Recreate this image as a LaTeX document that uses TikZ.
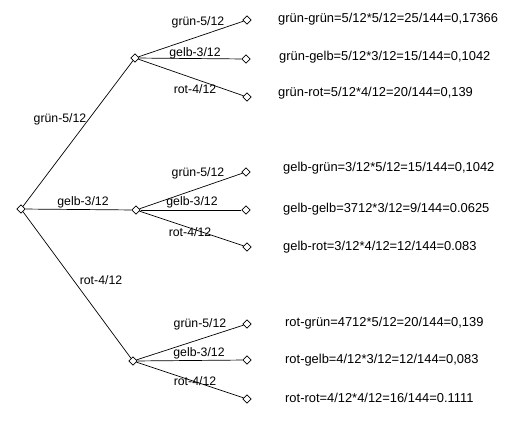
\documentclass[tikz,border=0pt]{standalone}
\usepackage{fontspec}
\setmainfont{Liberation Sans}
\usetikzlibrary{shapes.geometric}
\newcommand{\treefont}{\fontsize{12.3}{14}\selectfont}
\newcommand{\resultfont}{\fontsize{12.9}{15}\selectfont}

\begin{document}
\begin{tikzpicture}[
  x=1pt, y=-1pt,
  knot/.style={draw, diamond, minimum size=8.5pt, inner sep=0pt, line width=0.7pt},
  problabel/.style={font=\treefont, inner sep=0pt},
  result/.style={font=\resultfont, anchor=west, inner sep=0pt},
  branch/.style={line width=0.7pt}
]
\useasboundingbox (0,0) rectangle (527,420);
% tree points
\node[knot] (root) at (21,209) {};
\node[knot] (gruen) at (135,58) {};
\node[knot] (gelb) at (136,210) {};
\node[knot] (rot) at (133,361) {};
\node[knot] (gruengruen) at (247,20) {};
\node[knot] (gruengelb) at (246,59) {};
\node[knot] (gruenrot) at (247,97) {};
\node[knot] (gelbgruen) at (246,172) {};
\node[knot] (gelbgelb) at (246,210) {};
\node[knot] (gelbrot) at (247,247) {};
\node[knot] (rotgruen) at (247,324) {};
\node[knot] (rotgelb) at (247,360) {};
\node[knot] (rotrot) at (247,399) {};
% branches
\draw[branch] (root) -- (gruen);
\draw[branch] (root) -- (gelb);
\draw[branch] (root) -- (rot);
\draw[branch] (gruen) -- (gruengruen);
\draw[branch] (gruen) -- (gruengelb);
\draw[branch] (gruen) -- (gruenrot);
\draw[branch] (gelb) -- (gelbgruen);
\draw[branch] (gelb) -- (gelbgelb);
\draw[branch] (gelb) -- (gelbrot);
\draw[branch] (rot) -- (rotgruen);
\draw[branch] (rot) -- (rotgelb);
\draw[branch] (rot) -- (rotrot);
% branch labels
\node[problabel] (lgruen) at (60,119) {grün-5/12};
\node[problabel] (lgelb) at (83,202) {gelb-3/12};
\node[problabel] (lrot) at (101,280) {rot-4/12};
\node[problabel] (lgruengruen) at (198,22) {grün-5/12};
\node[problabel] (lgruengelb) at (195,53) {gelb-3/12};
\node[problabel] (lgruenrot) at (195,89) {rot-4/12};
\node[problabel] (lgelbgruen) at (198,173) {grün-5/12};
\node[problabel] (lgelbgelb) at (192,202) {gelb-3/12};
\node[problabel] (lgelbrot) at (190,232) {rot-4/12};
\node[problabel] (lrotgruen) at (200,324) {grün-5/12};
\node[problabel] (lrotgelb) at (199,353) {gelb-3/12};
\node[problabel] (lrotrot) at (195,381) {rot-4/12};
% results
\node[result] (rgruengruen) at (278,19) {grün-grün=5/12*5/12=25/144=0,17366};
\node[result] (rgruengelb) at (279,57) {grün-gelb=5/12*3/12=15/144=0,1042};
\node[result] (rgruenrot) at (278,93) {grün-rot=5/12*4/12=20/144=0,139};
\node[result] (rgelbgruen) at (283,168) {gelb-grün=3/12*5/12=15/144=0,1042};
\node[result] (rgelbgelb) at (283,209) {gelb-gelb=3712*3/12=9/144=0.0625};
\node[result] (rgelbrot) at (283,247) {gelb-rot=3/12*4/12=12/144=0.083};
\node[result] (rrotgruen) at (285,323) {rot-grün=4712*5/12=20/144=0,139};
\node[result] (rrotgelb) at (285,360) {rot-gelb=4/12*3/12=12/144=0,083};
\node[result] (rrotrot) at (285,398) {rot-rot=4/12*4/12=16/144=0.1111};
\end{tikzpicture}
\end{document}
